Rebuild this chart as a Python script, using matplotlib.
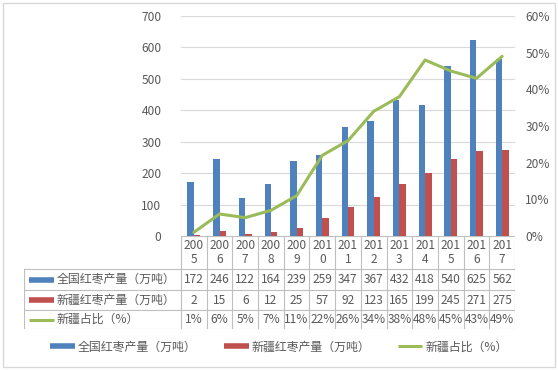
import matplotlib
matplotlib.use("Agg")
import matplotlib.pyplot as plt
from matplotlib.lines import Line2D

plt.rcParams['font.family'] = ['Noto Sans CJK SC', 'DejaVu Sans']

years = ["2005", "2006", "2007", "2008", "2009", "2010", "2011", "2012",
         "2013", "2014", "2015", "2016", "2017"]
national = [172, 246, 122, 164, 239, 259, 347, 367, 432, 418, 540, 625, 562]
xinjiang = [2, 15, 6, 12, 25, 57, 92, 123, 165, 199, 245, 271, 275]
share_pct = [1, 6, 5, 7, 11, 22, 26, 34, 38, 48, 45, 43, 49]
series_names = ["全国红枣产量（万吨）", "新疆红枣产量（万吨）", "新疆占比（%）"]
left_ticks = [0, 100, 200, 300, 400, 500, 600, 700]
right_ticks = [0, 10, 20, 30, 40, 50, 60]

BLUE = "#4F81BD"
RED = "#C0504D"
GREEN = "#9BBB59"
TXT = "#595959"
GRID = "#D9D9D9"
TLINE = "#BFBFBF"
FS = 8.6

W, H = 558, 370
fig = plt.figure(figsize=(W / 100, H / 100), dpi=100)

# border around the whole chart
fig.patches.append(plt.Rectangle((3 / W, 3 / H), (W - 6) / W, (H - 6) / H,
                                 transform=fig.transFigure, fill=False,
                                 edgecolor="#D9D9D9", lw=1))

px_l, px_r, px_t, px_b = 181, 515, 16, 236
ax = fig.add_axes([px_l / W, (H - px_b) / H, (px_r - px_l) / W, (px_b - px_t) / H])
n = len(years)
xs = list(range(n))
bw = 0.25
ax.bar([x - bw / 2 for x in xs], national, width=bw, color=BLUE, zorder=3)
ax.bar([x + bw / 2 for x in xs], xinjiang, width=bw, color=RED, zorder=3)
ax.set_xlim(-0.5, n - 0.5)
ax.set_ylim(0, 700)
ax.set_yticks(left_ticks)
ax.set_yticklabels([str(t) for t in left_ticks])
ax.set_xticks([])
ax.grid(axis='y', color=GRID, lw=0.8, zorder=0)
for s in ax.spines.values():
    s.set_visible(False)
ax.tick_params(axis='y', length=0, pad=14, labelsize=FS, labelcolor=TXT)

ax2 = ax.twinx()
ax2.plot(xs, share_pct, color=GREEN, lw=2.2, zorder=4, solid_capstyle='round')
ax2.set_ylim(0, 60)
ax2.set_yticks(right_ticks)
ax2.set_yticklabels([f"{t}%" for t in right_ticks])
ax2.set_xlim(-0.5, n - 0.5)
for s in ax2.spines.values():
    s.set_visible(False)
ax2.tick_params(axis='y', length=0, pad=7.5, labelsize=FS, labelcolor=TXT)

# data table
tab_l, tab_t, tab_b = 24, 236, 329
colw = (px_r - px_l) / n
xmin = -0.5 - (px_l - tab_l) / colw
tab = fig.add_axes([tab_l / W, (H - tab_b) / H, (px_r - tab_l) / W, (tab_b - tab_t) / H])
tab.set_xlim(xmin, n - 0.5)
tab.set_ylim(tab_b - tab_t, 0)
tab.axis('off')
rows = [0, 33, 54, 74, 93]
tab.plot([-0.5, n - 0.5], [0, 0], color=TLINE, lw=0.8)
for r in rows[1:]:
    tab.plot([xmin, n - 0.5], [r, r], color=TLINE, lw=0.8)
for i in range(n + 1):
    tab.plot([i - 0.5, i - 0.5], [0, rows[-1]], color=TLINE, lw=0.8)
tab.plot([xmin, xmin], [rows[1], rows[-1]], color=TLINE, lw=0.8)

for i, y in enumerate(years):
    tab.text(i, (rows[0] + rows[1]) / 2, y[:3] + "\n" + y[3:], ha='center',
             va='center', fontsize=FS, color=TXT, linespacing=1.15)
row_vals = [[str(v) for v in national], [str(v) for v in xinjiang],
            [f"{v}%" for v in share_pct]]
colors = [BLUE, RED, GREEN]
for r, vals in enumerate(row_vals):
    yc = (rows[r + 1] + rows[r + 2]) / 2
    for i, v in enumerate(vals):
        tab.text(i, yc, v, ha='center', va='center', fontsize=FS, color=TXT)
    kx0 = xmin + 5 / colw
    kx1 = xmin + 30 / colw
    tab.plot([kx0, kx1], [yc, yc], color=colors[r],
             lw=(4 if r < 2 else 2.2), solid_capstyle='butt')
    tab.text(xmin + 33 / colw, yc, series_names[r], ha='left', va='center',
             fontsize=FS, color=TXT)

handles = [Line2D([0], [0], color=BLUE, lw=4, solid_capstyle='butt'),
           Line2D([0], [0], color=RED, lw=4, solid_capstyle='butt'),
           Line2D([0], [0], color=GREEN, lw=2.2, solid_capstyle='butt')]
fig.legend(handles, series_names, loc='center', bbox_to_anchor=(279 / W, 1 - 347 / H),
           ncol=3, frameon=False, fontsize=FS, handlelength=2.05,
           handletextpad=0.25, columnspacing=2.3, labelcolor=TXT)

fig.savefig("out.png", dpi=100)
